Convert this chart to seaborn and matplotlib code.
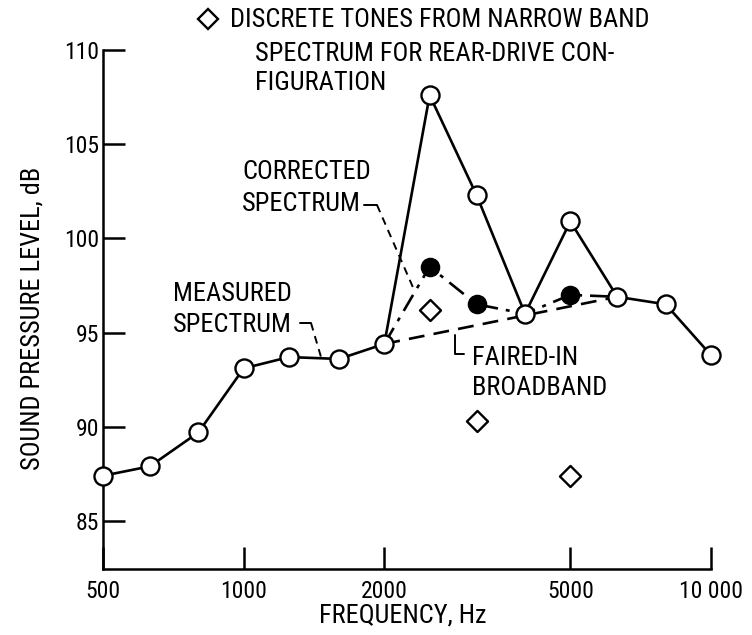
import matplotlib
matplotlib.use("Agg")
import matplotlib.pyplot as plt
import seaborn as sns
import pandas as pd
from matplotlib.lines import Line2D
from matplotlib import font_manager as fm

# ---- data ----
freq_measured = [500, 630, 800, 1000, 1250, 1600, 2000, 2500, 3150, 4000, 5000, 6300, 8000, 10000]
spl_measured = [87.4, 87.9, 89.7, 93.1, 93.7, 93.6, 94.4, 107.6, 102.3, 96.0, 100.9, 96.9, 96.5, 93.8]

freq_corrected = [2000, 2500, 3150, 4000, 5000, 6300]
spl_corrected = [94.4, 98.5, 96.5, 96.0, 97.0, 96.9]
corrected_filled = [False, True, True, False, True, False]

freq_broadband = [2000, 6300]
spl_broadband = [94.4, 96.9]

freq_tones = [2500, 3150, 5000]
spl_tones = [96.2, 90.3, 87.4]

xticks = [500, 1000, 2000, 5000, 10000]
xticklabels = ["500", "1000", "2000", "5000", "10 000"]
yticks = [85, 90, 95, 100, 105, 110]

df_meas = pd.DataFrame({"f": freq_measured, "spl": spl_measured})
df_corr = pd.DataFrame({"f": freq_corrected, "spl": spl_corrected, "filled": corrected_filled})
df_bb = pd.DataFrame({"f": freq_broadband, "spl": spl_broadband})
df_tone = pd.DataFrame({"f": freq_tones, "spl": spl_tones})

sns.set_style("ticks")
names = {f.name for f in fm.fontManager.ttflist}
cond = {(f.name, f.stretch) for f in fm.fontManager.ttflist}
STRETCH = "normal"
FS, FT = 19, 17
if "Liberation Sans Narrow" in names:
    FONT = ["Liberation Sans Narrow", "DejaVu Sans"]
elif "Roboto Condensed" in names:
    FONT = ["Roboto Condensed", "DejaVu Sans"]
elif any(n == "DejaVu Sans" and s == "condensed" for n, s in cond):
    FONT = ["DejaVu Sans", "Liberation Sans"]
    STRETCH = "condensed"
    FS, FT = 17, 15.5
else:
    FONT = ["Liberation Sans", "DejaVu Sans"]
    FS, FT = 16.5, 15.5
plt.rcParams["font.family"] = FONT
plt.rcParams["font.stretch"] = STRETCH
plt.rcParams["text.color"] = "black"
plt.rcParams["xtick.color"] = "black"
plt.rcParams["ytick.color"] = "black"
plt.rcParams["axes.edgecolor"] = "black"

W, H = 752, 635
fig = plt.figure(figsize=(W / 100, H / 100), dpi=100)
ax = fig.add_axes([103 / W, 1 - 569 / H, (711 - 103) / W, (569 - 50) / H])

LW = 1.9
sns.lineplot(data=df_bb, x="f", y="spl", ax=ax, color="black", lw=LW,
             linestyle=(0, (6, 3.5)), zorder=2, legend=False)
sns.lineplot(data=df_corr, x="f", y="spl", ax=ax, color="black", lw=LW,
             linestyle=(0, (7, 3, 1.5, 3)), zorder=2, legend=False)
sns.lineplot(data=df_meas, x="f", y="spl", ax=ax, color="black", lw=LW,
             marker="o", markersize=13, markerfacecolor="white",
             markeredgecolor="black", markeredgewidth=1.7, zorder=3, legend=False,
             clip_on=False)
sns.scatterplot(data=df_corr[df_corr["filled"]], x="f", y="spl", ax=ax,
                color="black", s=170, marker="o", edgecolor="black", zorder=4, legend=False)
sns.scatterplot(data=df_tone, x="f", y="spl", ax=ax, marker="D", s=115,
                facecolor="white", edgecolor="black", linewidth=1.7, zorder=4, legend=False)

ax.set_xscale("log")
ax.set_xlim(500, 10000)
ax.set_ylim(82.45, 110)
ax.set_xticks(xticks)
ax.set_xticklabels(xticklabels)
ax.xaxis.set_minor_locator(matplotlib.ticker.NullLocator())
ax.set_yticks(yticks)
ax.set_xlabel("")
ax.set_ylabel("")
for s in ["top", "right"]:
    ax.spines[s].set_visible(False)
for s in ["left", "bottom"]:
    ax.spines[s].set_linewidth(1.8)
ax.tick_params(axis="both", direction="in", length=16, width=1.8, labelsize=FT,
               colors="black")
ax.tick_params(axis="y", pad=3)
ax.tick_params(axis="x", pad=8)

fig.text(33 / W, 1 - 318 / H, "SOUND PRESSURE LEVEL, dB", rotation=90,
         ha="center", va="center", fontsize=FS, color="black")
fig.text(403 / W, 1 - 615 / H, "FREQUENCY, Hz", ha="center", va="center",
         fontsize=FS, color="black")

def ftxt(x, y, s):
    fig.text(x / W, 1 - y / H, s, ha="left", va="center", fontsize=FS, color="black")

def fline(xs, ys, ls="-"):
    fig.add_artist(Line2D([x / W for x in xs], [1 - y / H for y in ys],
                          color="black", lw=1.4, linestyle=ls))

fig.add_artist(Line2D([208 / W], [1 - 19 / H], marker="D", markersize=10,
                      markerfacecolor="white", markeredgecolor="black", markeredgewidth=1.7))
ftxt(230, 20, "DISCRETE TONES FROM NARROW BAND")
ftxt(255, 54, "SPECTRUM FOR REAR-DRIVE CON-")
ftxt(255, 83, "FIGURATION")

ftxt(242, 172, "CORRECTED")
ftxt(242, 204, "SPECTRUM")
fline([364, 377], [205, 205])
fline([377, 415], [205, 292], ls=(0, (4, 3)))

ftxt(173, 294, "MEASURED")
ftxt(173, 325, "SPECTRUM")
fline([300, 311], [323, 323])
fline([311, 321], [323, 357], ls=(0, (4, 3)))

ftxt(472, 358, "FAIRED-IN")
ftxt(472, 388, "BROADBAND")
fline([455, 455, 464], [335, 354, 354])

fig.savefig("out.png", dpi=100)
